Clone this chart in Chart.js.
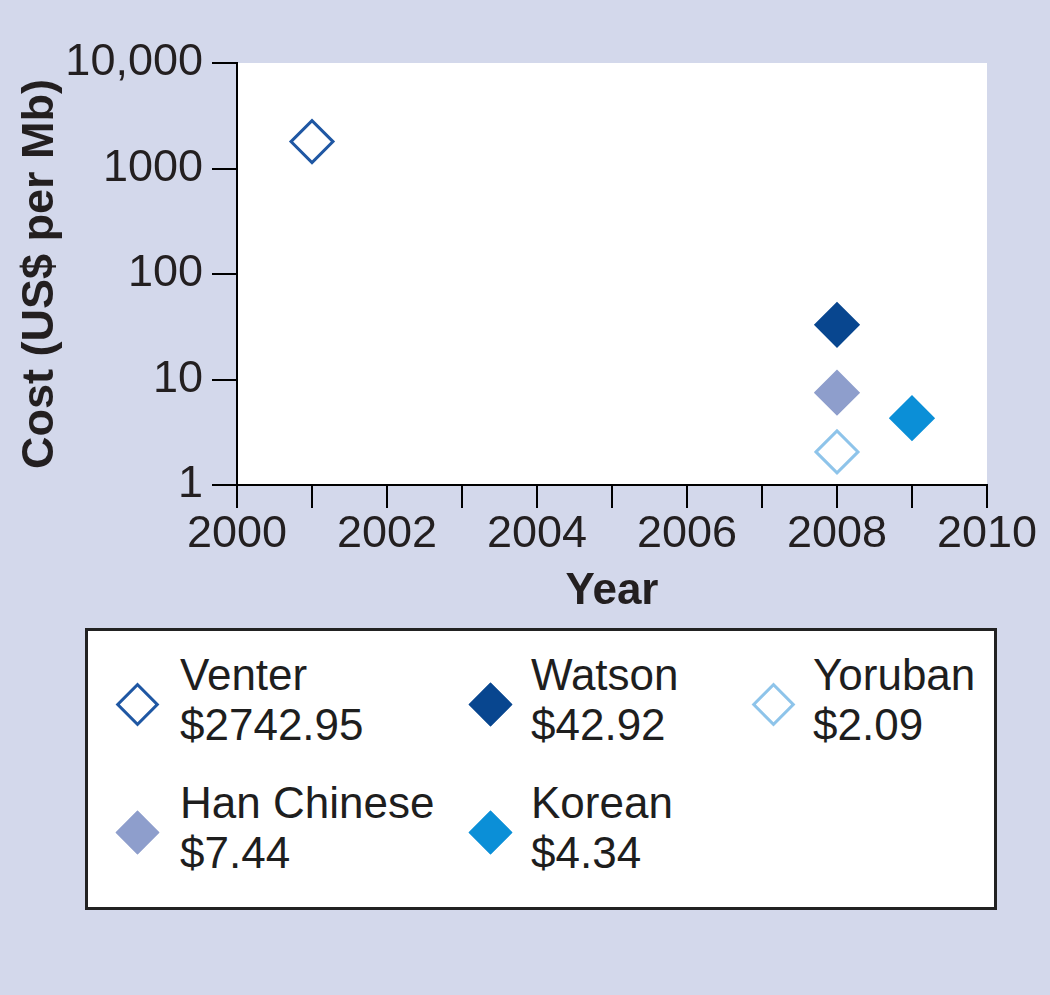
<!DOCTYPE html>
<html>
<head>
<meta charset="utf-8">
<script src="https://cdn.jsdelivr.net/npm/chart.js@4.4.1/dist/chart.umd.min.js"></script>
<style>
  html, body { margin: 0; padding: 0; background: #d3d8eb; }
  #wrap { position: relative; width: 1050px; height: 995px; overflow: hidden; }
  #chart { position: absolute; left: 0; top: 0; }
  #legend {
    position: absolute; left: 85px; top: 628px; width: 912px; height: 282px;
    box-sizing: border-box; border: 3px solid #222; background: #fff;
    font-family: 'Liberation Sans', Arial, sans-serif; font-size: 44px; color: #1e1e1e;
  }
  .item { position: absolute; line-height: 50px; white-space: nowrap; }
  .mark { position: absolute; width: 31px; height: 31px; box-sizing: border-box; transform: rotate(45deg); }
</style>
</head>
<body>
<div id="wrap">
  <canvas id="chart" width="1050" height="625"></canvas>
  <div id="legend"></div>
</div>
<script>
// genomes, in legend order (row by row)
const names = ['Venter', 'Watson', 'Yoruban', 'Han Chinese', 'Korean'];
const costLabels = ['$2742.95', '$42.92', '$2.09', '$7.44', '$4.34'];
const years = [2001, 2008, 2008, 2008, 2009];
const costs = [1800, 33, 2.06, 7.5, 4.3];
const hollow = [true, false, true, false, false];
const colors = ['#1f57a3', '#08468f', '#8ec4ea', '#8e9ecc', '#0b8fd7'];

const yTicks = [1, 10, 100, 1000, 10000];
const yTickLabels = ['1', '10', '100', '1000', '10,000'];
const xLabelYears = [2000, 2002, 2004, 2006, 2008, 2010];

const FONT = "'Liberation Sans', Arial, sans-serif";
const INK = '#231f20';

// white plot area, the rest stays page colour
const plotBackground = {
  id: 'plotBackground',
  beforeDraw(chart) {
    const { ctx, chartArea: { left, top, right, bottom } } = chart;
    ctx.save();
    ctx.fillStyle = '#ffffff';
    ctx.fillRect(left, top, right - left, bottom - top);
    ctx.restore();
  },
};

const datasets = names.map((name, i) => ({
  label: name,
  data: [{ x: years[i], y: costs[i] }],
  pointStyle: 'rectRot',
  pointRadius: 21,
  pointHoverRadius: 21,
  borderWidth: 3,
  borderColor: colors[i],
  backgroundColor: hollow[i] ? '#ffffff' : colors[i],
}));

new Chart(document.getElementById('chart').getContext('2d'), {
  type: 'scatter',
  plugins: [plotBackground],
  data: { datasets },
  options: {
    responsive: false,
    animation: false,
    devicePixelRatio: 1,
    layout: { padding: { left: 0, top: 63, right: 63, bottom: 0 } },
    plugins: {
      legend: { display: false },
      tooltip: { enabled: false },
    },
    scales: {
      x: {
        type: 'linear',
        min: 2000, max: 2010,
        afterFit: (s) => { s.height = 140; },
        border: { display: true, color: '#000', width: 2 },
        grid: { drawOnChartArea: false, drawTicks: true, tickLength: 23, color: '#000', lineWidth: 2 },
        ticks: {
          stepSize: 1,
          autoSkip: false,
          maxRotation: 0,
          padding: 0,
          color: INK,
          font: { family: FONT, size: 45 },
          callback: (v) => (xLabelYears.includes(v) ? String(v) : ''),
        },
        title: {
          display: true, text: 'Year', color: INK,
          font: { family: FONT, size: 44, weight: 'bold' },
          padding: { top: 0, bottom: 7 },
        },
      },
      y: {
        type: 'logarithmic',
        min: 1, max: 10000,
        afterFit: (s) => { s.width = 237; },
        afterBuildTicks: (axis) => { axis.ticks = yTicks.map((v) => ({ value: v })); },
        border: { display: true, color: '#000', width: 2 },
        grid: { drawOnChartArea: false, drawTicks: true, tickLength: 25, color: '#000', lineWidth: 2 },
        ticks: {
          padding: 9,
          color: INK,
          font: { family: FONT, size: 45 },
          callback: (v) => yTickLabels[yTicks.indexOf(v)] ?? '',
        },
        title: {
          display: true, text: 'Cost (US$ per Mb)', color: INK,
          font: { family: FONT, size: 45, weight: 'bold' },
          padding: { top: 14, bottom: 0 },
        },
      },
    },
  },
});

// legend box: three columns, two rows, name over cost
const legend = document.getElementById('legend');
const markX = [49, 402, 685];
const textX = [92, 443, 725];
const rowTop = [19, 147];
names.forEach((name, i) => {
  const col = i % 3, row = Math.floor(i / 3);
  const mark = document.createElement('div');
  mark.className = 'mark';
  mark.style.left = (markX[col] - 15.5) + 'px';
  mark.style.top = (rowTop[row] + 54 - 15.5) + 'px';
  mark.style.border = '3px solid ' + colors[i];
  mark.style.background = hollow[i] ? '#fff' : colors[i];
  legend.appendChild(mark);

  const item = document.createElement('div');
  item.className = 'item';
  item.style.left = textX[col] + 'px';
  item.style.top = rowTop[row] + 'px';
  item.innerHTML = name + '<br>' + costLabels[i];
  legend.appendChild(item);
});
</script>
</body>
</html>
